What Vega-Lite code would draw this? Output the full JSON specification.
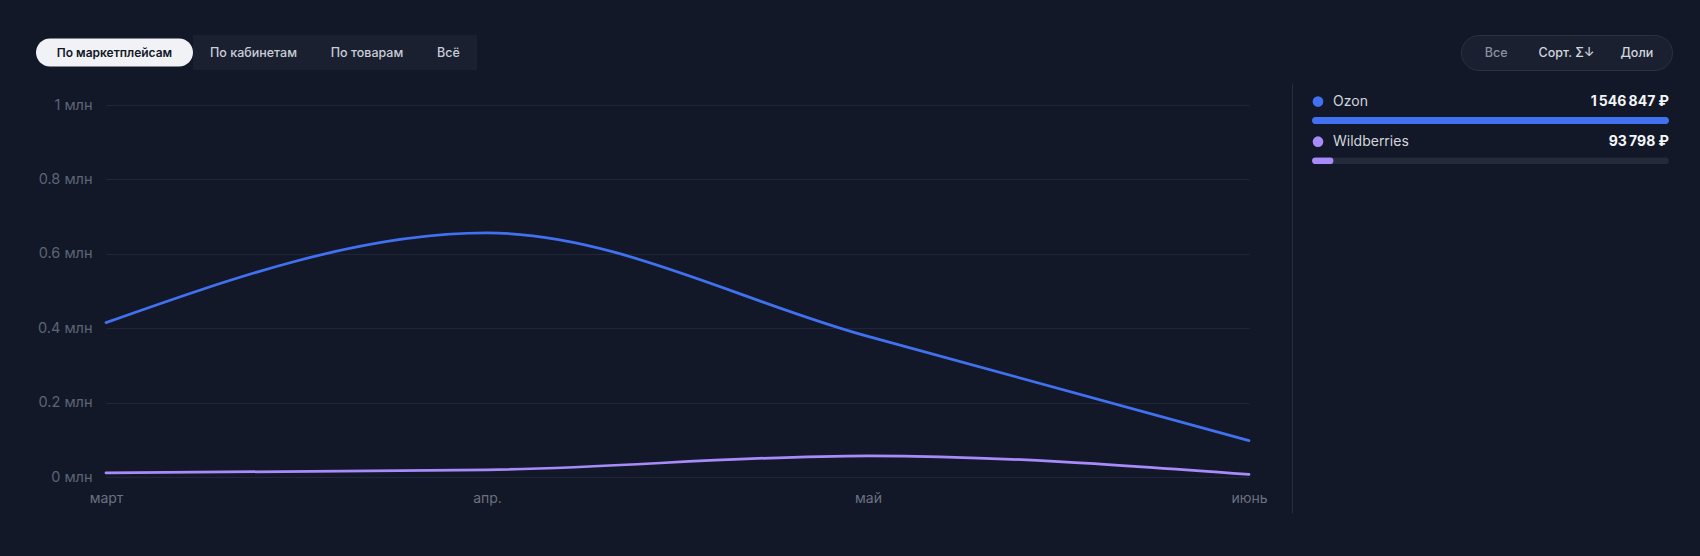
{
  "$schema": "https://vega.github.io/schema/vega-lite/v6.json",
  "background": "#121827",
  "padding": {"left": 36, "top": 34, "right": 29, "bottom": 43},
  "config": {
    "font": "Inter",
    "view": {"stroke": null},
    "locale": {"number": {"decimal": ".", "thousands": "\u202f", "grouping": [3], "currency": ["", "\u00a0₽"]}},
    "text": {"font": "Inter"},
    "axis": {"labelFont": "Inter"}
  },
  "datasets": {
    "sales": [
      {"month": "март", "series": "Ozon", "revenue": 415000},
      {"month": "апр.", "series": "Ozon", "revenue": 656000},
      {"month": "май", "series": "Ozon", "revenue": 378000},
      {"month": "июнь", "series": "Ozon", "revenue": 97847},
      {"month": "март", "series": "Wildberries", "revenue": 11000},
      {"month": "апр.", "series": "Wildberries", "revenue": 19000},
      {"month": "май", "series": "Wildberries", "revenue": 57000},
      {"month": "июнь", "series": "Wildberries", "revenue": 6798}
    ]
  },
  "spacing": 6,
  "vconcat": [
    {
      "spacing": 983,
      "hconcat": [
        {
          "spacing": 0,
          "center": true,
          "hconcat": [
            {
              "width": 157, "height": 28,
              "view": {"fill": "#f1f2f5", "stroke": null, "cornerRadius": 14},
              "data": {"values": [{"label": "По маркетплейсам"}]},
              "mark": {"type": "text", "fontSize": 12, "fontWeight": 600, "color": "#111827"},
              "encoding": {"text": {"field": "label"}}
            },
            {
              "width": 121, "height": 35,
              "view": {"fill": "#1a2030", "stroke": null},
              "data": {"values": [{"label": "По кабинетам"}]},
              "mark": {"type": "text", "fontSize": 12.5, "fontWeight": 500, "color": "#c9cdd6"},
              "encoding": {"text": {"field": "label"}}
            },
            {
              "width": 106, "height": 35,
              "view": {"fill": "#1a2030", "stroke": null},
              "data": {"values": [{"label": "По товарам"}]},
              "mark": {"type": "text", "fontSize": 12.5, "fontWeight": 500, "color": "#c9cdd6"},
              "encoding": {"text": {"field": "label"}}
            },
            {
              "width": 57, "height": 35,
              "view": {"fill": "#1a2030", "stroke": null},
              "data": {"values": [{"label": "Всё"}]},
              "mark": {"type": "text", "fontSize": 12.5, "fontWeight": 500, "color": "#c9cdd6"},
              "encoding": {"text": {"field": "label"}}
            }
          ]
        },
        {
          "width": 211, "height": 35,
          "view": {"fill": "#1a2030", "stroke": "#2a3142", "strokeWidth": 1, "cornerRadius": 17.5},
          "data": {"values": [
            {"label": "Все", "state": "off"},
            {"label": "Сорт. Σ↓", "state": "on"},
            {"label": "Доли", "state": "on"}
          ]},
          "mark": {"type": "text", "fontSize": 12.5, "fontWeight": 500},
          "encoding": {
            "x": {"field": "label", "type": "nominal", "sort": null, "axis": null},
            "text": {"field": "label"},
            "fill": {"field": "state", "type": "nominal", "legend": null,
              "scale": {"domain": ["off", "on"], "range": ["#8a90a0", "#d2d6de"]}}
          }
        }
      ]
    },
    {
      "spacing": 0,
      "hconcat": [
        {
          "width": 1, "height": 1,
          "data": {"values": [{}]},
          "mark": {"type": "text", "text": ""}
        },
        {
          "spacing": 24,
          "hconcat": [
            {
              "width": 1143, "height": 394,
              "data": {"name": "sales"},
              "mark": {"type": "line", "interpolate": "monotone", "strokeWidth": 2.75, "strokeCap": "round"},
              "encoding": {
                "x": {"field": "month", "type": "ordinal", "sort": ["март", "апр.", "май", "июнь"],
                  "scale": {"type": "point", "padding": 0},
                  "axis": {"title": null, "domain": false, "ticks": false, "grid": false,
                    "labelColor": "#6b7181", "labelFontSize": 14, "labelPadding": 14, "labelAngle": 0}},
                "y": {"field": "revenue", "type": "quantitative",
                  "scale": {"domain": [0, 1059140], "nice": false, "zero": true},
                  "axis": {"title": null, "values": [0, 200000, 400000, 600000, 800000, 1000000],
                    "labelExpr": "format(datum.value / 1000000, '~g') + ' млн'",
                    "domain": false, "ticks": false, "grid": true, "gridColor": "#1f2636", "gridWidth": 1,
                    "labelColor": "#5d6475", "labelFontSize": 14.5, "labelPadding": 14,
                    "minExtent": 69, "maxExtent": 69}},
                "color": {"field": "series", "type": "nominal", "legend": null,
                  "scale": {"domain": ["Ozon", "Wildberries"], "range": ["#4171f0", "#a78bfa"]}}
              }
            },
            {
              "width": 357, "height": 430,
              "data": {"name": "sales"},
              "transform": [
                {"aggregate": [{"op": "sum", "field": "revenue", "as": "total"}], "groupby": ["series"]},
                {"joinaggregate": [{"op": "max", "field": "total", "as": "maxTotal"}]},
                {"window": [{"op": "row_number", "as": "rank"}], "sort": [{"field": "total", "order": "descending"}]}
              ],
              "encoding": {
                "y": {"field": "rank", "type": "quantitative",
                  "scale": {"domain": [0.66, 11.148], "reverse": true, "nice": false, "zero": false},
                  "axis": {"title": null, "labels": false, "ticks": false, "grid": false, "domain": true,
                    "domainColor": "#262d3d", "offset": 20, "minExtent": 0, "maxExtent": 0}}
              },
              "layer": [
                {
                  "mark": {"type": "bar", "orient": "horizontal", "height": 7, "cornerRadius": 3.5, "yOffset": 19, "color": "#232a3a"},
                  "encoding": {
                    "x": {"field": "maxTotal", "type": "quantitative", "scale": {"nice": false, "zero": true}, "axis": null}
                  }
                },
                {
                  "mark": {"type": "bar", "orient": "horizontal", "height": 7, "cornerRadius": 3.5, "yOffset": 19},
                  "encoding": {
                    "x": {"field": "total", "type": "quantitative", "axis": null},
                    "color": {"field": "series", "type": "nominal", "legend": null,
                      "scale": {"domain": ["Ozon", "Wildberries"], "range": ["#4171f0", "#a78bfa"]}}
                  }
                },
                {
                  "mark": {"type": "circle", "size": 113, "opacity": 1, "xOffset": 6},
                  "encoding": {
                    "x": {"datum": 0, "type": "quantitative"},
                    "color": {"field": "series", "type": "nominal", "legend": null,
                      "scale": {"domain": ["Ozon", "Wildberries"], "range": ["#4171f0", "#a78bfa"]}}
                  }
                },
                {
                  "mark": {"type": "text", "align": "left", "baseline": "middle", "dx": 21, "fontSize": 14, "color": "#d1d5de"},
                  "encoding": {
                    "x": {"datum": 0, "type": "quantitative"},
                    "text": {"field": "series"}
                  }
                },
                {
                  "mark": {"type": "text", "align": "right", "baseline": "middle", "fontSize": 14, "fontWeight": 700, "color": "#f4f5f7"},
                  "encoding": {
                    "x": {"field": "maxTotal", "type": "quantitative"},
                    "text": {"field": "total", "type": "quantitative", "format": "$,d"}
                  }
                }
              ]
            }
          ]
        }
      ]
    }
  ]
}
